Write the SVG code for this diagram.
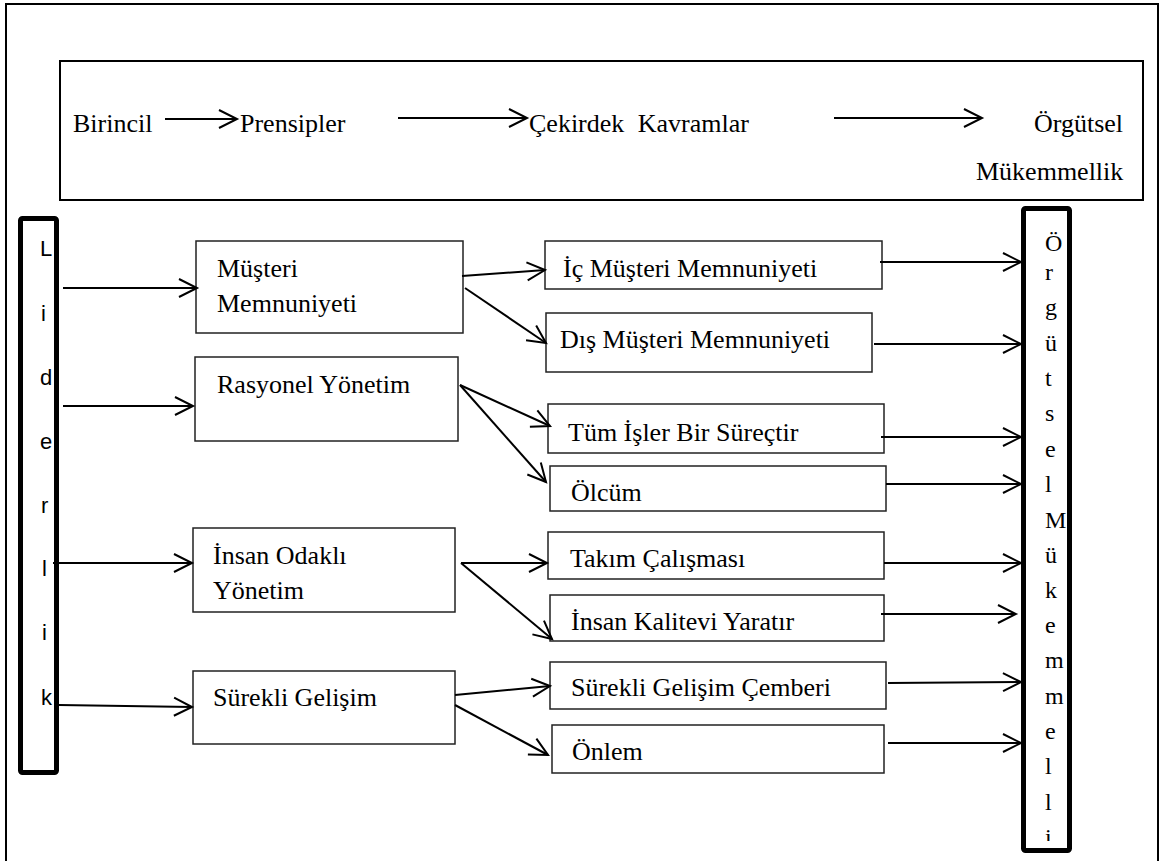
<svg xmlns="http://www.w3.org/2000/svg" width="1160" height="861" viewBox="0 0 1160 861">
<style>
.serif{font-family:"Liberation Serif","Times New Roman",serif;font-size:26px;fill:#000}
.sans{font-family:"Liberation Sans",Arial,sans-serif;font-size:22px;fill:#000}
.vs{font-family:"Liberation Serif","Times New Roman",serif;font-size:24px;fill:#000}
.box{fill:#fff;stroke:#222;stroke-width:1.5}
.bar{fill:#fff;stroke:#000;stroke-width:5}
.con line{stroke:#000;stroke-width:2;marker-end:url(#ah)}
</style>
<defs>
<marker id="ah" markerUnits="userSpaceOnUse" markerWidth="24" markerHeight="24" refX="20" refY="11" orient="auto">
<path d="M2,2 L20,11 L2,20" fill="none" stroke="#000" stroke-width="2"/>
</marker>
<clipPath id="rclip"><rect x="1025" y="210" width="44" height="631"/></clipPath>
</defs>
<rect width="1160" height="861" fill="#fff"/>
<path d="M6,861 V4 H1158 V861" fill="none" stroke="#000" stroke-width="2"/>

<g id="header">
<rect x="60" y="61" width="1083" height="139" fill="#fff" stroke="#000" stroke-width="2"/>
<text class="serif" x="73" y="132">Birincil</text>
<text class="serif" x="240" y="132">Prensipler</text>
<text class="serif" x="529" y="132" word-spacing="7">Çekirdek Kavramlar</text>
<text class="serif" x="1034" y="132">Örgütsel</text>
<text class="serif" x="976" y="180">Mükemmellik</text>
</g>

<g id="liderlik">
<rect class="bar" x="20.5" y="218.5" width="36" height="554" rx="2"/>
<text class="sans" x="40" y="256">L</text>
<text class="sans" x="41" y="321">i</text>
<text class="sans" x="40" y="385">d</text>
<text class="sans" x="40" y="449">e</text>
<text class="sans" x="41" y="513">r</text>
<text class="sans" x="42" y="576">l</text>
<text class="sans" x="42" y="640">i</text>
<text class="sans" x="41" y="705">k</text>
</g>

<g id="orgutsel">
<rect class="bar" x="1023.5" y="208.5" width="46" height="642" rx="2"/>
<g clip-path="url(#rclip)">
<text class="vs" x="1045" y="251">Ö</text>
<text class="vs" x="1045" y="280">r</text>
<text class="vs" x="1045" y="315">g</text>
<text class="vs" x="1045" y="351">ü</text>
<text class="vs" x="1045" y="386">t</text>
<text class="vs" x="1045" y="421">s</text>
<text class="vs" x="1045" y="457">e</text>
<text class="vs" x="1045" y="492">l</text>
<text class="vs" x="1045" y="528">M</text>
<text class="vs" x="1045" y="563">ü</text>
<text class="vs" x="1045" y="598">k</text>
<text class="vs" x="1045" y="633">e</text>
<text class="vs" x="1045" y="668">m</text>
<text class="vs" x="1045" y="704">m</text>
<text class="vs" x="1045" y="739">e</text>
<text class="vs" x="1045" y="774">l</text>
<text class="vs" x="1045" y="810">l</text>
<text class="vs" x="1045" y="845">i</text>
</g>
</g>

<g id="musteri"><rect class="box" x="196" y="241" width="267" height="92"/>
<text class="serif" x="217" y="277">Müşteri</text><text class="serif" x="217" y="312">Memnuniyeti</text></g>
<g id="rasyonel"><rect class="box" x="195" y="357" width="263" height="84"/>
<text class="serif" x="217" y="393">Rasyonel Yönetim</text></g>
<g id="insan"><rect class="box" x="193" y="528" width="262" height="84"/>
<text class="serif" x="213" y="564">İnsan Odaklı</text><text class="serif" x="213" y="599">Yönetim</text></g>
<g id="surekli"><rect class="box" x="193" y="671" width="262" height="73"/>
<text class="serif" x="213" y="706">Sürekli Gelişim</text></g>

<g id="ic"><rect class="box" x="545" y="241" width="337" height="48"/>
<text class="serif" x="563" y="277">İç Müşteri Memnuniyeti</text></g>
<g id="dis"><rect class="box" x="546" y="313" width="326" height="59"/>
<text class="serif" x="560" y="348">Dış Müşteri Memnuniyeti</text></g>
<g id="tum"><rect class="box" x="548" y="404" width="336" height="49"/>
<text class="serif" x="568" y="441">Tüm İşler Bir Süreçtir</text></g>
<g id="olcum"><rect class="box" x="550" y="466" width="336" height="45"/>
<text class="serif" x="571" y="501">Ölcüm</text></g>
<g id="takim"><rect class="box" x="548" y="532" width="336" height="47"/>
<text class="serif" x="570" y="567">Takım Çalışması</text></g>
<g id="kalite"><rect class="box" x="550" y="595" width="334" height="46"/>
<text class="serif" x="571" y="630">İnsan Kalitevi Yaratır</text></g>
<g id="cember"><rect class="box" x="550" y="662" width="336" height="47"/>
<text class="serif" x="571" y="696">Sürekli Gelişim Çemberi</text></g>
<g id="onlem"><rect class="box" x="552" y="725" width="332" height="48"/>
<text class="serif" x="572" y="760">Önlem</text></g>

<g id="connectors" class="con">
<line x1="165" y1="119" x2="237" y2="119"/>
<line x1="398" y1="118" x2="527" y2="118"/>
<line x1="834" y1="118" x2="982" y2="118"/>

<line x1="63" y1="288" x2="197" y2="288"/>
<line x1="63" y1="406" x2="193" y2="406"/>
<line x1="53" y1="563" x2="192" y2="563"/>
<line x1="59" y1="705" x2="192" y2="707"/>

<line x1="462" y1="276" x2="545" y2="270"/>
<line x1="465" y1="288" x2="546" y2="343"/>
<line x1="460" y1="385" x2="550" y2="426"/>
<line x1="460" y1="385" x2="546" y2="482"/>
<line x1="461" y1="563" x2="547" y2="563"/>
<line x1="461" y1="563" x2="552" y2="639"/>
<line x1="455" y1="695" x2="550" y2="686"/>
<line x1="455" y1="705" x2="548" y2="755"/>

<line x1="880" y1="262" x2="1021" y2="262"/>
<line x1="874" y1="344" x2="1021" y2="344"/>
<line x1="881" y1="437" x2="1021" y2="437"/>
<line x1="886" y1="484" x2="1021" y2="484"/>
<line x1="884" y1="563" x2="1021" y2="563"/>
<line x1="881" y1="614" x2="1016" y2="614"/>
<line x1="888" y1="683" x2="1021" y2="682"/>
<line x1="888" y1="743" x2="1021" y2="743"/>
</g>
</svg>
